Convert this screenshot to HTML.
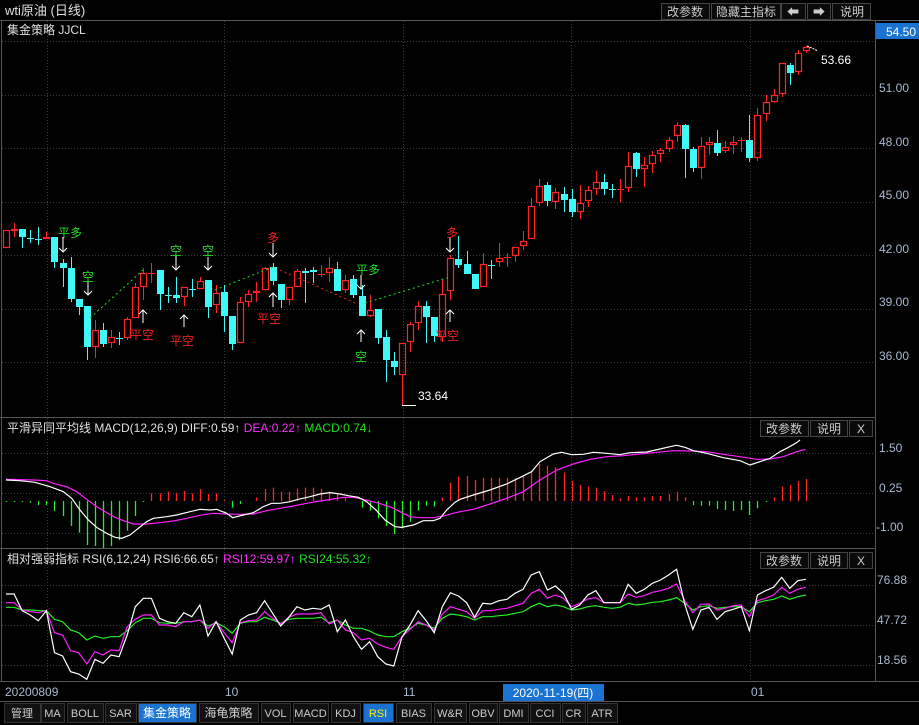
<!DOCTYPE html>
<html><head><meta charset="utf-8"><style>
html,body{margin:0;padding:0;background:#000;width:919px;height:725px;overflow:hidden}
svg{display:block}
text{font-family:"Liberation Sans","Noto Sans CJK SC",sans-serif;}
</style></head><body>
<svg id="s" width="919" height="725" xmlns="http://www.w3.org/2000/svg">
<rect width="919" height="725" fill="#000"/>
<g id="grid" stroke="#3a3a3a" stroke-dasharray="1,2" stroke-width="1"></g>
<g id="main"></g>
<g stroke="#555" fill="none">
<line x1="0" y1="20.5" x2="919" y2="20.5"/>
<line x1="875.5" y1="20" x2="875.5" y2="682"/>
<line x1="0" y1="417.5" x2="875" y2="417.5"/>
<line x1="0" y1="548.5" x2="875" y2="548.5"/>
<line x1="0" y1="681.5" x2="919" y2="681.5"/>
<line x1="0" y1="701.5" x2="919" y2="701.5"/>
<line x1="1.5" y1="20" x2="1.5" y2="682"/>
</g>
<text x="5" y="15" fill="#e0e0e0" font-size="13">wti原油 (日线)</text>
<g font-size="12" fill="#ccc" text-anchor="middle">
<rect x="661.5" y="3.5" width="48" height="16" fill="#0a0a0a" stroke="#444"/><text x="685" y="16">改参数</text>
<rect x="711.5" y="3.5" width="69" height="16" fill="#0a0a0a" stroke="#444"/><text x="746" y="16">隐藏主指标</text>
<rect x="781.5" y="3.5" width="24" height="16" fill="#0a0a0a" stroke="#444"/><text x="793" y="16">⬅</text>
<rect x="807.5" y="3.5" width="23" height="16" fill="#0a0a0a" stroke="#444"/><text x="819" y="16">➡</text>
<rect x="832.5" y="3.5" width="38" height="16" fill="#0a0a0a" stroke="#444"/><text x="852" y="16">说明</text>
</g>
<text x="7" y="34" fill="#e0e0e0" font-size="12">集金策略 JJCL</text>
<rect x="876" y="23" width="43" height="16" fill="#1a73d0"/>
<text x="916" y="36" fill="#fff" font-size="12" text-anchor="end">54.50</text>
<g font-size="12" fill="#a8b8d0">
<text x="879" y="92">51.00</text><text x="879" y="146">48.00</text><text x="879" y="199">45.00</text>
<text x="879" y="253">42.00</text><text x="879" y="306">39.00</text><text x="879" y="360">36.00</text>
<text x="879" y="452">1.50</text><text x="879" y="492">0.25</text><text x="876" y="531">-1.00</text>
<text x="877" y="584">76.88</text><text x="877" y="624">47.72</text><text x="877" y="664">18.56</text>
</g>
<text x="7" y="432" font-size="12"><tspan fill="#e0e0e0">平滑异同平均线 MACD(12,26,9) DIFF:0.59↑ </tspan><tspan fill="#ff30ff">DEA:0.22↑ </tspan><tspan fill="#20e020">MACD:0.74↓</tspan></text>
<g font-size="12" fill="#ccc" text-anchor="middle">
<rect x="760.5" y="420.5" width="48" height="16" fill="#0a0a0a" stroke="#444"/><text x="784" y="433">改参数</text>
<rect x="810.5" y="420.5" width="37" height="16" fill="#0a0a0a" stroke="#444"/><text x="829" y="433">说明</text>
<rect x="849.5" y="420.5" width="23" height="16" fill="#0a0a0a" stroke="#444"/><text x="861" y="433">X</text>
</g>
<text x="7" y="563" font-size="12"><tspan fill="#e0e0e0">相对强弱指标 RSI(6,12,24) RSI6:66.65↑ </tspan><tspan fill="#ff30ff">RSI12:59.97↑ </tspan><tspan fill="#20e020">RSI24:55.32↑</tspan></text>
<g font-size="12" fill="#ccc" text-anchor="middle">
<rect x="760.5" y="552.5" width="48" height="16" fill="#0a0a0a" stroke="#444"/><text x="784" y="565">改参数</text>
<rect x="810.5" y="552.5" width="37" height="16" fill="#0a0a0a" stroke="#444"/><text x="829" y="565">说明</text>
<rect x="849.5" y="552.5" width="23" height="16" fill="#0a0a0a" stroke="#444"/><text x="861" y="565">X</text>
</g>
<g font-size="12" fill="#a8b8d0">
<text x="5" y="696">20200809</text><text x="225" y="696">10</text><text x="403" y="696">11</text><text x="751" y="696">01</text>
</g>
<rect x="503" y="684" width="101" height="17" fill="#1a73d0"/>
<text x="553" y="697" fill="#fff" font-size="12" text-anchor="middle">2020-11-19(四)</text>
<g id="tb" font-size="11" text-anchor="middle"></g>
</svg>
<script>
const S=document.getElementById('s'),NS='http://www.w3.org/2000/svg';
function el(p,t,a,txt){const e=document.createElementNS(NS,t);for(const k in a)e.setAttribute(k,a[k]);if(txt!=null)e.textContent=txt;(p||S).appendChild(e);return e;}
const G=document.getElementById('grid'),M=document.getElementById('main');
[41,95,148,202,255,309,362,453,493,533,585,625,665].forEach(y=>el(G,'line',{x1:2,x2:875,y1:y+.5,y2:y+.5}));
[47,224,403,571,750].forEach(x=>{el(G,'line',{x1:x+.5,x2:x+.5,y1:21,y2:417});el(G,'line',{x1:x+.5,x2:x+.5,y1:418,y2:548});el(G,'line',{x1:x+.5,x2:x+.5,y1:549,y2:681});});
const X=i=>6+i*8.08;
const C=`R 230 248 230 248|R 229 231 223 237|C 229 237 229 248|C 238 239 230 243|C 239 240 227 245|R 237 239 232 239|C 237 262 237 268|C 263 268 259 287|C 268 299 257 302|C 299 307 299 315|C 306 347 306 360|R 330 347 320 358|C 330 344 323 347|R 337 343 330 348|C 338 339 332 345|R 319 338 317 340|R 287 318 283 318|R 273 287 268 300|R 273 274 263 283|C 270 294 270 310|C 295 296 287 303|C 295 298 277 303|R 287 297 287 306|C 289 290 279 297|R 281 289 277 289|C 280 307 280 318|R 293 305 285 313|C 292 316 285 332|C 316 344 316 350|R 302 343 297 343|R 294 302 290 307|R 291 293 282 302|R 268 290 267 290|C 267 281 263 285|C 284 300 284 308|R 287 300 287 305|R 271 287 269 287|C 271 273 268 303|C 270 272 267 283|R 274 275 265 277|R 268 273 257 282|C 269 291 262 291|R 280 290 275 293|C 279 295 275 298|C 296 316 285 316|R 310 316 295 317|C 309 338 309 344|C 337 360 330 382|C 361 367 352 375|R 343 375 343 405|R 324 342 322 352|R 306 323 301 330|C 306 317 301 343|C 317 336 317 342|R 294 337 280 342|R 258 291 255 300|C 259 265 236 268|C 264 274 251 274|C 274 289 274 289|R 264 287 253 287|C 265 266 260 279|R 258 262 243 267|R 257 258 253 267|R 247 256 247 262|R 241 246 231 250|R 206 239 198 239|R 186 203 179 206|C 185 201 182 206|R 192 202 188 209|C 194 200 187 212|C 199 212 189 217|R 203 212 185 219|R 190 201 186 207|R 182 189 171 195|C 182 189 174 195|C 189 190 184 198|R 189 190 179 202|R 166 188 152 192|C 153 169 152 177|R 165 169 157 187|R 155 164 151 173|R 150 154 148 162|R 140 149 137 152|R 125 136 122 142|C 125 149 124 178|C 149 168 147 172|R 146 168 137 179|R 142 145 137 155|C 143 153 130 156|R 147 151 141 153|R 142 145 136 154|R 140 141 137 152|C 140 158 115 162|R 115 158 108 161|R 102 114 95 121|R 95 102 89 103|R 63 94 63 97|C 65 73 63 85|R 53 72 50 75|R 47 51 46 53`.split('|');
C.forEach((s,i)=>{const [c,a,b,t,w]=s.split(' ');const bt=+a,bb=+b,wt=+t,wb=+w,x=Math.round(X(i));
 const col=c=='R'?'#ff2424':'#3ff8f8';
 el(M,'line',{x1:x+.5,x2:x+.5,y1:wt,y2:bt,stroke:col});el(M,'line',{x1:x+.5,x2:x+.5,y1:bb,y2:wb,stroke:col});
 if(bb-bt<=1) el(M,'line',{x1:x-3,x2:x+4,y1:bt+.5,y2:bt+.5,stroke:col});
 else if(c=='R') el(M,'rect',{x:x-2.5,y:bt+.5,width:6,height:bb-bt-1,fill:'none',stroke:col,'stroke-width':1.2});
 else el(M,'rect',{x:x-3,y:bt,width:7,height:bb-bt,fill:col});
});
el(M,'line',{x1:402,x2:416,y1:405.5,y2:405.5,stroke:'#fff'});
el(M,'text',{x:418,y:400,fill:'#fff','font-size':12},'33.64');
el(M,'polyline',{points:'807,46 812,48 818,51',stroke:'#fff',fill:'none','stroke-dasharray':'2,1'});
el(M,'text',{x:821,y:64,fill:'#fff','font-size':12},'53.66');
[['90,318 143,270','#22dd22'],['215,290 273,267','#22dd22'],['280,270 312,284 355,303','#ee2222'],['365,303 450,277','#22dd22']].forEach(p=>el(M,'polyline',{points:p[0],stroke:p[1],fill:'none','stroke-dasharray':'2,3'}));
function arrow(x,y1,y2){el(M,'line',{x1:x,x2:x,y1:y1,y2:y2,stroke:'#fff'});const d=y2>y1?-4:4;el(M,'polyline',{points:`${x-4},${y2+d} ${x},${y2} ${x+4},${y2+d}`,stroke:'#fff',fill:'none'});}
[[63,237,252],[88,280,295],[176,255,270],[208,257,270],[273,243,257],[361,275,289],[450,237,252]].forEach(a=>arrow(...a));
[[143,323,310],[184,327,315],[273,307,293],[361,342,330],[450,322,310]].forEach(a=>arrow(...a));
const G2='#22dd22',R2='#ee2222';
[['平多',70,233,G2],['空',88,277,G2],['平空',142,335,R2],['空',176,251,G2],['平空',182,341,R2],['空',208,251,G2],['多',273,238,R2],['平空',269,319,R2],['平多',368,270,G2],['空',361,357,G2],['平空',447,336,R2],['多',452,233,R2]].forEach(t=>el(M,'text',{x:t[1],y:t[2]+4,fill:t[3],'font-size':12,'text-anchor':'middle'},t[0]));
const H=[186,186,186,188,195,195,213,228,258,278,315,318,324,318,300,272,228,186,160,160,155,158,153,160,147,162,160,180,203,192,184,172,147,143,155,155,145,143,143,147,155,162,172,184,203,212,235,258,282,265,245,212,197,200,172,128,110,108,120,113,113,113,113,115,110,92,72,77,82,98,123,135,140,143,153,165,175,168,172,172,168,168,162,155,172,195,197,197,207,210,213,210,225,205,186,172,140,135,123,117];
H.forEach((v,i)=>{const y=440+v/3,x=Math.round(X(i))+.5;if(Math.abs(y-501)<.5)return;el(M,'line',{x1:x,x2:x,y1:501,y2:y,stroke:v<184?'#ff2424':'#22ee22','stroke-width':1.3});});
const W1=[[18,120],[60,122],[105,127],[150,140],[190,155],[215,175],[240,210],[265,240],[290,262],[320,280],[345,292],[365,295],[390,285],[415,265],[440,245],[460,235],[500,230],[530,225],[570,215],[600,208],[630,210],[650,208],[680,220],[698,233],[730,225],[760,218],[790,200],[815,190],[840,190],[870,185],[895,178],[930,170],[960,162],[990,158],[1020,162],[1045,167],[1075,172],[1100,185],[1130,212],[1155,240],[1185,260],[1205,262],[1240,255],[1270,242],[1300,242],[1320,235],[1340,210],[1365,187],[1380,178]];
const W2=[[100,165],[150,150],[200,132],[245,110],[275,95],[300,65],[340,42],[365,37],[395,44],[430,43],[460,37],[500,40],[540,44],[570,38],[620,36],[660,27],[690,20],[710,16],[735,22],[760,32],[800,40],[850,53],[900,62],[930,75],[960,65],[990,55],[1020,35],[1040,25],[1070,8],[1080,0]];
const M1=[[18,118],[100,120],[140,122],[160,130],[200,140],[230,155],[260,178],[290,200],[320,218],[345,232],[370,242],[400,252],[440,252],[480,248],[520,243],[560,235],[600,226],[640,220],[680,222],[720,223],[760,222],[800,212],[840,205],[880,198],[920,190],[960,183],[1000,177],[1030,172],[1060,172],[1090,178],[1130,188],[1170,200],[1200,215],[1230,230],[1260,233],[1300,233],[1330,228],[1360,220],[1380,215]];
const M2=[[100,208],[150,192],[200,175],[250,155],[300,120],[350,90],[400,72],[450,58],[500,50],[550,47],[600,42],[650,37],[700,32],[750,33],[800,35],[850,43],[900,50],[950,58],[990,57],[1030,50],[1070,35],[1096,28]];
el(M,'polyline',{points:M1.map(p=>`${p[0]/3},${440+p[1]/3}`).concat(M2.map(p=>`${440+p[0]/3},${440+p[1]/3}`)).join(' '),stroke:'#ff20ff',fill:'none','stroke-width':1.2});
el(M,'polyline',{points:W1.map(p=>`${p[0]/3},${440+p[1]/3}`).concat(W2.map(p=>`${440+p[0]/3},${440+p[1]/3}`)).join(' '),stroke:'#fff',fill:'none','stroke-width':1.2});
const RW=[102,102,152,165,182,152,278,288,335,342,358,298,310,285,290,225,140,115,115,175,185,190,158,170,135,228,185,235,282,180,165,158,122,160,198,172,140,150,145,148,135,215,180,230,268,245,290,312,318,232,195,152,182,218,140,98,108,128,172,130,132,122,118,100,88,45,35,90,78,100,148,135,105,92,128,128,128,73,100,88,70,60,45,28,132,208,150,142,178,155,148,140,212,105,92,82,52,85,62,58];
const RM=[128,128,150,155,158,152,218,225,272,278,312,275,285,270,272,200,178,165,165,195,195,200,185,185,180,205,185,218,248,188,182,180,155,175,192,172,162,162,162,158,192,180,210,218,240,235,252,262,268,230,208,185,195,210,162,140,148,155,175,152,152,148,145,137,130,100,88,115,105,115,140,130,117,113,128,128,128,102,112,107,97,92,85,72,122,158,133,132,150,145,137,135,170,122,115,105,82,100,88,82];
const RG=[142,142,150,150,152,152,178,185,210,218,240,228,235,230,230,212,188,175,175,188,190,190,185,185,180,198,188,200,220,190,185,185,172,180,190,178,175,175,175,172,188,180,195,205,205,213,225,230,230,215,205,190,195,205,175,162,165,170,180,170,170,167,165,160,155,140,130,140,135,140,150,147,140,137,142,145,142,130,135,132,127,125,120,113,130,150,140,137,145,142,140,140,155,128,122,118,108,118,110,105];
[[RG,'#22ee22'],[RM,'#ff20ff'],[RW,'#fff']].forEach(r=>el(M,'polyline',{points:r[0].map((v,i)=>`${X(i).toFixed(1)},${(560+v/3).toFixed(1)}`).join(' '),stroke:r[1],fill:'none','stroke-width':1.2}));
const TB=document.getElementById('tb');
[['管理',4,36],['MA',41,23],['BOLL',67,36],['SAR',105,31],['集金策略',138,58,1],['海龟策略',199,59],['VOL',261,29],['MACD',293,35],['KDJ',331,29],['RSI',363,30,2],['BIAS',396,35],['W&R',434,32],['OBV',469,28],['DMI',499,29],['CCI',530,30],['CR',562,23],['ATR',587,30]].forEach(b=>{
 el(TB,'rect',{x:b[1]+.5,y:703.5,width:b[2],height:19,fill:b[3]?'#1a73d0':'#111',stroke:'#333'});
 el(TB,'text',{x:b[1]+b[2]/2,y:717,fill:b[3]==2?'#ffee00':(b[3]?'#fff':'#ccc'),'font-size':b[0].length==4&&b[0]>'z'?12:11},b[0]);
});
</script>
</body></html>
